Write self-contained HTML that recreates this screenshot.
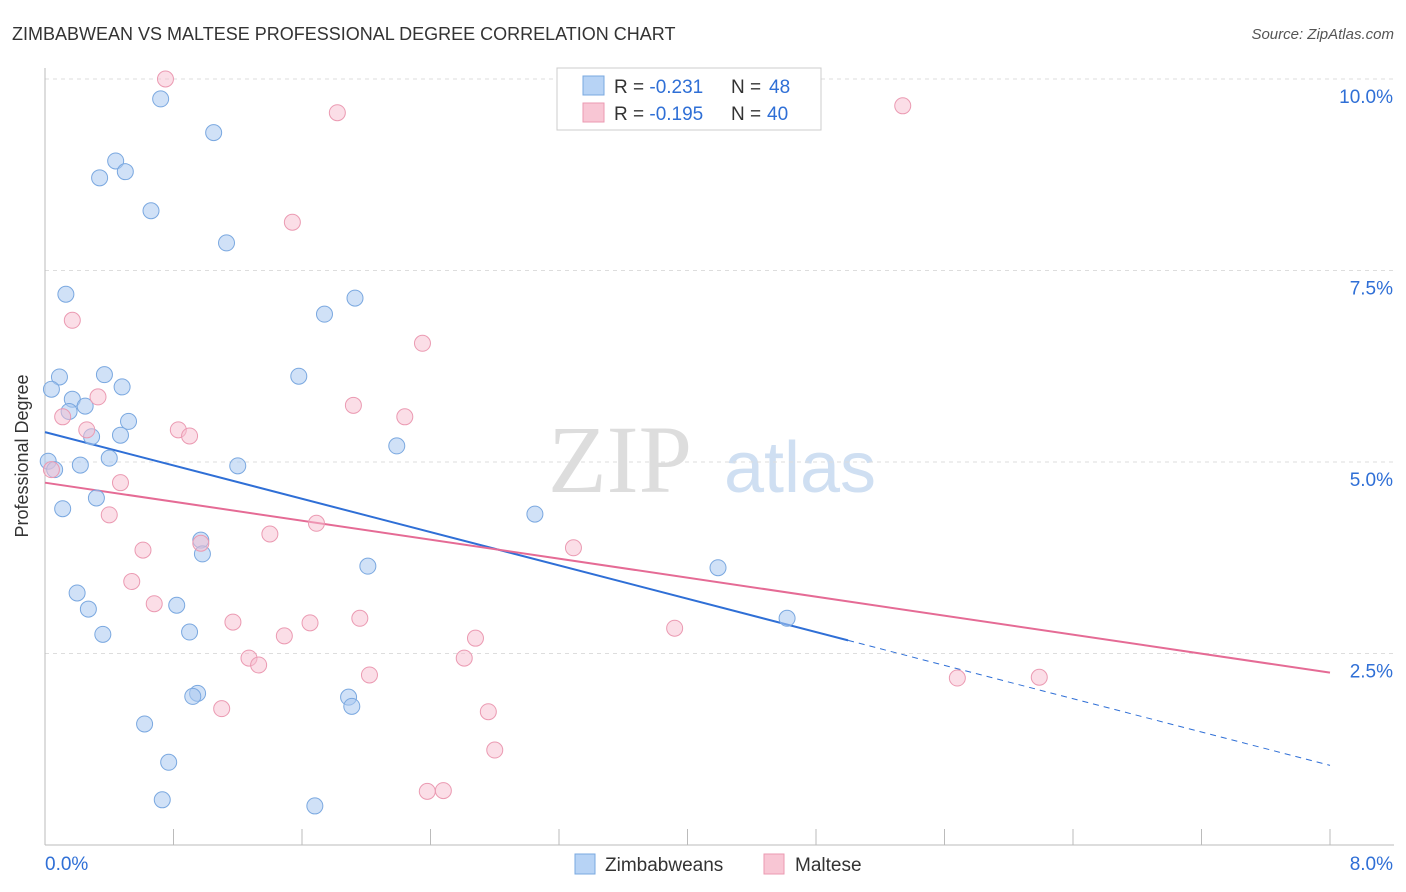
<!DOCTYPE html>
<html><head><meta charset="utf-8">
<style>
body{margin:0;background:#fff;font-family:"Liberation Sans",sans-serif;}
#wrap{position:relative;width:1406px;height:892px;overflow:hidden;}
</style></head>
<body>
<div id="wrap">
<svg id="chart" width="1406" height="892" xmlns="http://www.w3.org/2000/svg">
<text x="12" y="40" font-size="18" fill="#333">ZIMBABWEAN VS MALTESE PROFESSIONAL DEGREE CORRELATION CHART</text>
<text x="1394" y="39" font-size="15" fill="#555" font-style="italic" text-anchor="end">Source: ZipAtlas.com</text>
<text x="28" y="456" font-size="18" fill="#333" text-anchor="middle" transform="rotate(-90 28 456)">Professional Degree</text>
<text x="620" y="492" font-size="96" fill="#ddd" font-family="Liberation Serif,serif" text-anchor="middle">ZIP</text>
<text x="800" y="492" font-size="72" fill="#cfdff2" text-anchor="middle">atlas</text>
<g id="grid"></g><g id="lines"></g><g id="pts"></g>
<g>
<rect x="557" y="68" width="264" height="62" fill="#fff" stroke="#ccc"/>
<rect x="583" y="76" width="21" height="19" fill="#b7d3f5" stroke="#7aa8e0"/>
<rect x="583" y="103" width="21" height="19" fill="#f8c6d4" stroke="#eb9ab2"/>
<text x="614" y="93" font-size="19" fill="#333">R = <tspan fill="#2f6fd6">-0.231</tspan></text>
<text x="731" y="93" font-size="19" fill="#333">N = <tspan fill="#2f6fd6" x="769">48</tspan></text>
<text x="614" y="120" font-size="19" fill="#333">R = <tspan fill="#2f6fd6">-0.195</tspan></text>
<text x="731" y="120" font-size="19" fill="#333">N = <tspan fill="#2f6fd6" x="767">40</tspan></text>
</g>
<g>
<rect x="575" y="854" width="20" height="20" fill="#b7d3f5" stroke="#7aa8e0"/>
<text x="605" y="871" font-size="19" fill="#333">Zimbabweans</text>
<rect x="764" y="854" width="20" height="20" fill="#f8c6d4" stroke="#eb9ab2"/>
<text x="795" y="871" font-size="19" fill="#333">Maltese</text>
</g>
</svg>
</div>
<script>
const yTicks=[2.5,5.0,7.5,10.0];
const xTickLabels=["0.0%","8.0%"];
const blueX=[0.72,1.05,0.44,0.50,0.34,0.66,1.13,0.13,1.93,1.74,0.09,0.37,1.58,0.04,0.48,0.17,0.25,0.15,0.52,0.29,0.47,2.19,0.40,0.02,0.22,1.20,0.06,0.32,0.11,3.05,0.97,0.98,2.01,4.19,0.20,0.27,0.82,4.62,0.36,0.90,0.95,0.92,1.89,1.91,0.62,0.77,0.73,1.68];
const blueY=[9.74,9.30,8.93,8.79,8.71,8.28,7.86,7.19,7.14,6.93,6.11,6.14,6.12,5.95,5.98,5.82,5.73,5.66,5.53,5.33,5.35,5.21,5.05,5.01,4.96,4.95,4.90,4.53,4.39,4.32,3.98,3.80,3.64,3.62,3.29,3.08,3.13,2.96,2.75,2.78,1.98,1.94,1.93,1.81,1.58,1.08,0.59,0.51];
const pinkX=[0.75,1.82,5.34,1.54,0.17,2.35,1.92,0.33,2.24,0.11,0.26,0.83,0.90,0.04,0.47,0.40,1.69,1.40,0.97,0.61,3.29,0.54,0.68,1.96,1.17,1.65,1.49,2.68,3.92,1.27,2.61,1.33,2.02,5.68,6.19,1.10,2.76,2.80,2.48,2.38];
const pinkY=[10.0,9.56,9.65,8.13,6.85,6.55,5.74,5.85,5.59,5.59,5.42,5.42,5.34,4.90,4.73,4.31,4.20,4.06,3.94,3.85,3.88,3.44,3.15,2.96,2.91,2.90,2.73,2.70,2.83,2.44,2.44,2.35,2.22,2.18,2.19,1.78,1.74,1.24,0.71,0.70];
const blueLine=[5.39,1.04], pinkLine=[4.73,2.25], blueSolidEnd=5.0;
const X=v=>45+v/8*1285, Y=v=>845-v*76.6;
const NS="http://www.w3.org/2000/svg";
function mk(t,a,p){const e=document.createElementNS(NS,t);for(const k in a)e.setAttribute(k,a[k]);p.appendChild(e);return e;}
const grid=document.getElementById('grid');
yTicks.forEach(v=>{
 const l=mk('line',{x1:45,x2:1394,y1:Y(v),y2:Y(v),stroke:'#ddd','stroke-dasharray':'4 4'},grid);
 
 
 const t=mk('text',{x:1393,y:Y(v)+24,'font-size':19,fill:'#2f6fd6','text-anchor':'end'},grid);t.textContent=v.toFixed(1)+'%';
 
 
});
mk('line',{x1:45,x2:1394,y1:845,y2:845,stroke:'#bbb'},grid);
mk('line',{x1:45,x2:45,y1:68,y2:845,stroke:'#bbb'},grid);
for(let i=0;i<=10;i++){const x=X(i*0.8);mk('line',{x1:x,x2:x,y1:829,y2:845,stroke:'#bbb'},grid);}
xTickLabels.forEach((s,i)=>{const t=mk('text',{x:i?1393:45,y:870,'font-size':19,fill:'#2f6fd6','text-anchor':i?'end':'start'},grid);t.textContent=s;
 
 });
const pts=document.getElementById('pts');
blueX.forEach((x,i)=>{const c=mk('circle',{cx:X(x),cy:Y(blueY[i]),r:8,fill:'rgba(170,200,240,0.55)',stroke:'#7aa8e0','stroke-width':1},pts);
 
 });
pinkX.forEach((x,i)=>{const c=mk('circle',{cx:X(x),cy:Y(pinkY[i]),r:8,fill:'rgba(248,190,208,0.5)',stroke:'#eb9ab2','stroke-width':1},pts);
 
 });
const lines=document.getElementById('lines');
const by=x=>blueLine[0]+(blueLine[1]-blueLine[0])*x/8;
let l=mk('line',{x1:X(0),y1:Y(by(0)),x2:X(blueSolidEnd),y2:Y(by(blueSolidEnd)),stroke:'#2f6fd6','stroke-width':2},lines);


l=mk('line',{x1:X(blueSolidEnd),y1:Y(by(blueSolidEnd)),x2:X(8),y2:Y(by(8)),stroke:'#2f6fd6','stroke-width':1,'stroke-dasharray':'6 5'},lines);


l=mk('line',{x1:X(0),y1:Y(pinkLine[0]),x2:X(8),y2:Y(pinkLine[1]),stroke:'#e56b95','stroke-width':2},lines);


</script>
</body></html>
